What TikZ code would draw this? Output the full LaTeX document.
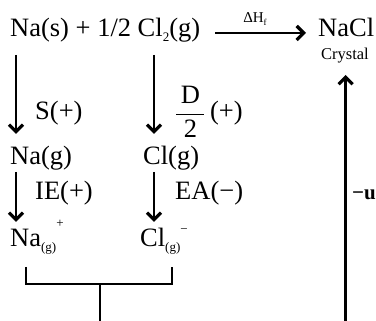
\documentclass[tikz,border=0pt]{standalone}
\usepackage{fontspec}
\setmainfont{Liberation Serif}
\usetikzlibrary{arrows.meta}
\tikzset{
  lbl/.style={anchor=base west,inner sep=0pt,font=\fontsize{26.5}{30}\selectfont},
  tiny/.style={anchor=base,inner sep=0pt,font=\fontsize{16.5}{18}\selectfont},
  arr/.style={line width=2.5pt,-{Straight Barb[length=7pt,width=14pt,line width=3.2pt]}},
  ln/.style={line width=2.5pt},
}
\newcommand{\smtxt}[1]{{\fontsize{13}{14}\selectfont #1}}
\begin{document}
\begin{tikzpicture}[x=1pt,y=-1pt]
\useasboundingbox (0,0) rectangle (376,321);
% top row
\node[lbl] (nas) at (10,37) {Na(s) + 1/2 Cl\raisebox{-5pt}{\smtxt{2}}(g)};
\node[lbl] (nacl) at (318,37) {NaCl};
\node[tiny] (cry) at (345,60) {Crystal};
\node[anchor=base,inner sep=0pt,font=\fontsize{15}{16}\selectfont] (dh) at (255,23) {ΔH\raisebox{-2.5pt}{\fontsize{9}{10}\selectfont f}};
\coordinate (h1) at (215,33);
\coordinate (h2) at (306,33);
\draw[arr] (h1) -- (h2);
% left column
\coordinate (a1s) at (16,55);
\coordinate (a1e) at (16,134);
\draw[arr] (a1s) -- (a1e);
\node[lbl] (s) at (35,120) {S(+)};
\node[lbl] (nag) at (10,165) {Na(g)};
\coordinate (a2s) at (16,172);
\coordinate (a2e) at (16,222);
\draw[arr] (a2s) -- (a2e);
\node[lbl] (ie) at (35,200) {IE(+)};
\node[lbl] (nap) at (10,247) {Na\raisebox{-5pt}{\smtxt{(g)}}\raisebox{19pt}{\smtxt{+}}};
% middle column
\coordinate (b1s) at (154,55);
\coordinate (b1e) at (154,134);
\draw[arr] (b1s) -- (b1e);
\node[lbl] (d2) at (175,120) {$\displaystyle\frac{\hbox to 28pt{\hss D\hss}}{\hbox{2}}$\,(+)};
\node[lbl] (clg) at (143,165) {Cl(g)};
\coordinate (b2s) at (154,172);
\coordinate (b2e) at (154,222);
\draw[arr] (b2s) -- (b2e);
\node[lbl] (ea) at (175,200) {EA(\char"2212)};
\node[lbl] (clm) at (140,247) {Cl\raisebox{-5pt}{\smtxt{(g)}}\raisebox{13pt}{\smtxt{\char"2212}}};
% bracket
\coordinate (k1) at (26,267);
\coordinate (k2) at (172,267);
\coordinate (km) at (100,284);
\coordinate (kb) at (100,321);
\draw[ln] (k1) |- (km) -| (k2);
\draw[ln] (km) -- (kb);
% right arrow
\coordinate (r1) at (345.7,321);
\coordinate (r2) at (345.7,75);
\draw[arr] (r1) -- (r2);
\node[anchor=base west,inner sep=0pt,font=\fontsize{21}{22}\selectfont\bfseries] (u) at (352,200) {\char"2212 u};
\end{tikzpicture}
\end{document}
